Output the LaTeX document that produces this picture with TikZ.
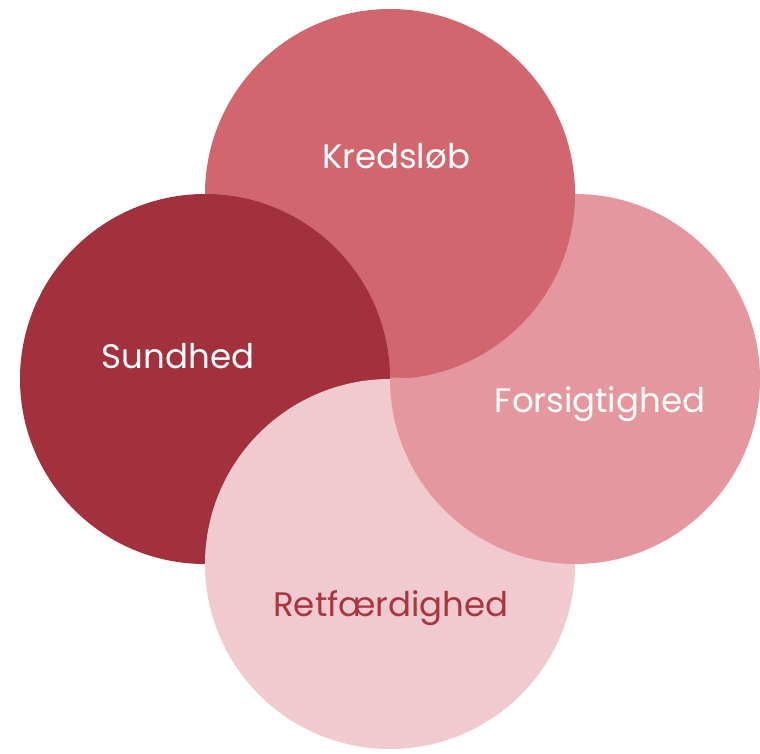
\documentclass[tikz,border=0pt]{standalone}
\usepackage{fontspec}
\setmainfont{Poppins}
\usetikzlibrary{positioning}
\definecolor{sundcol}{HTML}{A3303D}
\definecolor{kredcol}{HTML}{D2666F}
\definecolor{forscol}{HTML}{E4979E}
\definecolor{retcol}{HTML}{F0CACE}
\definecolor{rettext}{HTML}{A8353F}

\begin{document}
\begin{tikzpicture}[x=1pt, y=1pt]
 \tikzstyle{ring} = [circle, minimum size=370pt, inner sep=0pt, draw=none]
 \tikzstyle{T} = [font=\fontsize{34}{36}\selectfont, anchor=base, text=white]

 \useasboundingbox (0,0) rectangle (760,753);
 \coordinate (O) at (390,374);

 \node [ring, fill=forscol] (F) at (575,374) {};
 \node [ring, fill=kredcol] (K) at (390,559) {};
 \node [ring, fill=sundcol] (S) at (205,374) {};
 \node [ring, fill=retcol]  (R) at (390,189) {};
 % F lies over R
 \begin{scope}
  \clip (R.center) circle (186.5);
  \fill [forscol] (F.center) circle (185);
 \end{scope}

 \node [T] (KT) at (396,584) {Kredsløb};
 \node [T] (ST) at (178,384) {Sundhed};
 \node [T] (FT) at (600,340) {Forsigtighed};
 \node [T, text=rettext] (RT) at (391,137) {Retfærdighed};
\end{tikzpicture}
\end{document}
